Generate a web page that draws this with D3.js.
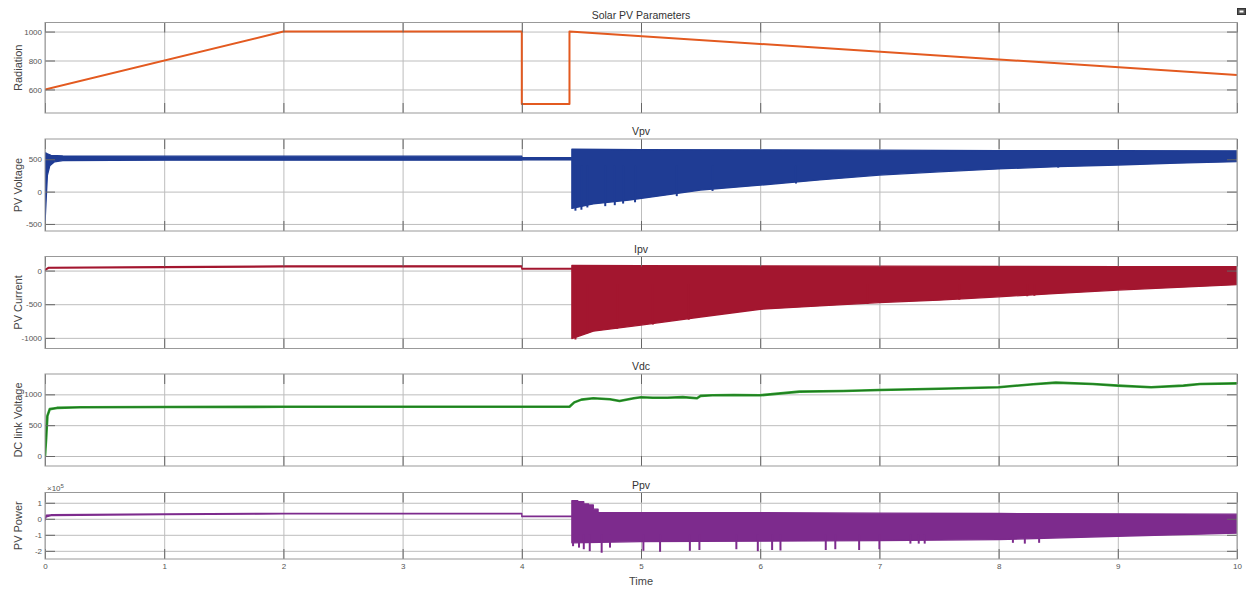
<!DOCTYPE html>
<html>
<head>
<meta charset="utf-8">
<script src="https://cdn.jsdelivr.net/npm/d3@7"></script>
<style>
  body { margin: 0; background: #fff; }
  svg { display: block; }
  text { font-family: "Liberation Sans", Arial, sans-serif; }
</style>
</head>
<body>
<svg id="chart"></svg>
<script>
// Figure size and shared horizontal extent of the plot boxes.
const width = 1247;
const height = 591;
const X_LEFT = 45;
const X_RIGHT = 1237;

const GRID_COLOR = '#bdbdbd';
const TICK_COLOR = '#666';
const FRAME_COLOR = '#999';
const LABEL_COLOR = '#444';

// Data -----------------------------------------------------------------------

const timeTicks = [0, 1, 2, 3, 4, 5, 6, 7, 8, 9, 10];

// Radiation (W/m2)
const radTime  = [0, 2, 4, 4, 4.4, 4.4, 10];
const radValue = [600, 1000, 1000, 500, 500, 1000, 700];
const radTicks = [600, 800, 1000];

// PV voltage: switching band drawn by its upper and lower envelopes
const vpvUpTime  = [0, 0.005, 0.02, 0.05, 0.15, 1, 2, 3, 4, 4, 4.42, 4.42, 5, 6, 7, 8, 9, 10];
const vpvUpValue = [-480, 600, 585, 560, 550, 548, 548, 548, 548, 525, 525, 655, 650, 645, 640, 634, 632, 630];
const vpvLoTime  = [0, 0.005, 0.02, 0.04, 0.08, 0.15, 1, 2, 3, 4, 4, 4.42, 4.42, 4.6, 4.9, 5.2, 5.5, 6, 6.5, 7, 7.5, 8, 8.5, 9, 9.5, 10];
const vpvLoValue = [-480, -300, 250, 400, 460, 480, 485, 485, 485, 485, 492, 492, -260, -190, -130, -55, 25, 100, 180, 255, 305, 350, 385, 411, 440, 462];
const vpvSpikeTime  = [4.45, 4.5, 4.55, 4.7, 4.78, 4.85, 4.95, 5.3, 5.6, 6.3, 8.5];
const vpvSpikeValue = [-295, -280, -245, -225, -210, -185, -165, -70, 10, 125, 370];
const vpvTicks = [-500, 0, 500];

// PV current
const ipvUpTime  = [0, 0.03, 1, 2, 3, 4, 4, 4.42, 4.42, 5, 6, 7, 8, 9, 10];
const ipvUpValue = [15, 48, 58, 68, 70, 70, 32, 32, 75, 72, 68, 65, 62, 60, 58];
const ipvLoTime  = [0, 0.03, 1, 2, 3, 4, 4, 4.42, 4.42, 4.6, 5, 5.5, 6, 6.5, 7, 7.5, 8, 8.5, 9, 9.5, 10];
const ipvLoValue = [0, 35, 45, 55, 57, 57, 22, 22, -1010, -900, -810, -690, -575, -525, -475, -440, -390, -340, -290, -250, -210];
const ipvSpikeTime  = [4.45, 4.55, 4.8, 5.1, 5.4, 6.9, 7.67, 8.24, 8.3];
const ipvSpikeValue = [-1025, -930, -865, -800, -730, -495, -435, -380, -375];
const ipvTicks = [-1000, -500, 0];

// DC link voltage
const vdcTime  = [0, 0.01, 0.02, 0.04, 0.1, 0.3, 1, 2, 3, 4, 4.4, 4.44, 4.5, 4.6, 4.74, 4.82, 4.94, 5.0, 5.1, 5.22, 5.35, 5.47, 5.5, 5.6, 5.78, 6.0, 6.33, 6.7, 7.0, 7.5, 8.0, 8.29, 8.48, 8.79, 9.0, 9.28, 9.55, 9.69, 10];
const vdcValue = [0, 300, 650, 760, 780, 790, 795, 798, 800, 800, 800, 870, 915, 937, 920, 893, 937, 953, 945, 946, 955, 937, 975, 985, 990, 985, 1044, 1055, 1070, 1090, 1115, 1164, 1190, 1168, 1141, 1115, 1141, 1168, 1178];
const vdcTicks = [0, 500, 1000];

// PV power, in units of 1e5 W
const ppvUpTime  = [0, 0.01, 0.05, 1, 2, 3, 4, 4, 4.42, 4.42, 4.47, 4.47, 4.52, 4.52, 4.56, 4.56, 4.6, 4.6, 4.64, 4.64, 5, 6, 7, 8, 9, 10];
const ppvUpValue = [-0.1, 0.22, 0.25, 0.3, 0.34, 0.34, 0.34, 0.17, 0.17, 1.13, 1.13, 1.07, 1.07, 0.93, 0.93, 0.86, 0.86, 0.6, 0.6, 0.4, 0.39, 0.38, 0.35, 0.33, 0.31, 0.29];
const ppvLoTime  = [0, 0.01, 0.05, 1, 2, 3, 4, 4, 4.42, 4.42, 5, 6, 7, 8, 9, 10];
const ppvLoValue = [-0.1, 0.12, 0.2, 0.26, 0.3, 0.3, 0.3, 0.13, 0.13, -1.5, -1.42, -1.4, -1.36, -1.3, -1.09, -0.9];
const ppvSpikeTime  = [4.43, 4.48, 4.52, 4.57, 4.67, 4.74, 5.02, 5.16, 5.41, 5.49, 5.8, 5.98, 6.1, 6.17, 6.55, 6.63, 6.83, 7.0, 7.26, 7.33, 7.38, 8.12, 8.22, 8.34];
const ppvSpikeValue = [-1.71, -1.8, -1.9, -2.02, -2.12, -1.8, -2.0, -2.06, -2.0, -1.95, -1.9, -2.02, -1.95, -1.98, -1.95, -1.9, -1.95, -1.9, -1.55, -1.55, -1.55, -1.5, -1.55, -1.5];
const ppvTicks = [-2, -1, 0, 1];

// Layout ----------------------------------------------------------------------

const svg = d3.select('#chart')
    .attr('width', width)
    .attr('height', height);

const x = d3.scaleLinear().domain([0, 10]).range([X_LEFT, X_RIGHT]);

const panels = [
    {title: 'Solar PV Parameters', label: 'Radiation',       top: 22.5,  bottom: 113,   domain: [437.5, 1062.5], ticks: radTicks},
    {title: 'Vpv',                 label: 'PV Voltage',      top: 139,   bottom: 231,   domain: [-609, 813],     ticks: vpvTicks},
    {title: 'Ipv',                 label: 'PV Current',      top: 256.5, bottom: 348.5, domain: [-1158, 209],    ticks: ipvTicks},
    {title: 'Vdc',                 label: 'DC link Voltage', top: 374,   bottom: 466,   domain: [-162, 1330],    ticks: vdcTicks},
    {title: 'Ppv',                 label: 'PV Power',        top: 492.5, bottom: 559,   domain: [-2.51, 1.64],   ticks: ppvTicks},
];

// plain numbers with an ASCII minus, as the scope prints them
const plain = d => String(d);

panels.forEach((p, i) => {
    p.y = d3.scaleLinear().domain(p.domain).range([p.bottom, p.top]);
    p.g = svg.append('g');
    p.isLast = i === panels.length - 1;

    const plotW = X_RIGHT - X_LEFT;
    const plotH = p.bottom - p.top;

    // grid
    p.g.append('g')
        .attr('transform', `translate(${X_LEFT},0)`)
        .call(d3.axisLeft(p.y).tickValues(p.ticks).tickSize(-plotW).tickFormat(''))
        .call(g => g.select('.domain').remove())
        .call(g => g.selectAll('line').attr('stroke', GRID_COLOR));
    p.g.append('g')
        .attr('transform', `translate(0,${p.bottom})`)
        .call(d3.axisBottom(x).tickValues(timeTicks).tickSize(-plotH).tickFormat(''))
        .call(g => g.select('.domain').remove())
        .call(g => g.selectAll('line').attr('stroke', GRID_COLOR));

    p.plot = p.g.append('g');

    svg.append('clipPath').attr('id', `clip${i}`)
        .append('rect')
        .attr('x', X_LEFT).attr('y', p.top)
        .attr('width', plotW).attr('height', plotH);
    p.plot.attr('clip-path', `url(#clip${i})`);
});

function drawAxes(p) {
    const styleTicks = g => {
        g.select('.domain').remove();
        g.selectAll('line').attr('stroke', TICK_COLOR);
        g.selectAll('text')
            .attr('fill', '#555')
            .style('font-size', '8px')
            .style('font-family', '"Liberation Sans", Arial, sans-serif');
    };
    p.g.append('g')
        .attr('transform', `translate(${X_LEFT},0)`)
        .call(d3.axisLeft(p.y).tickValues(p.ticks).tickSize(-10).tickPadding(3).tickFormat(plain))
        .call(styleTicks);
    p.g.append('g')
        .attr('transform', `translate(${X_RIGHT},0)`)
        .call(d3.axisRight(p.y).tickValues(p.ticks).tickSize(-10).tickFormat(''))
        .call(styleTicks);
    p.g.append('g')
        .attr('transform', `translate(0,${p.bottom})`)
        .call(d3.axisBottom(x).tickValues(timeTicks).tickSize(-10).tickPadding(4)
            .tickFormat(p.isLast ? plain : ''))
        .call(styleTicks);
    p.g.append('g')
        .attr('transform', `translate(0,${p.top})`)
        .call(d3.axisTop(x).tickValues(timeTicks).tickSize(-10).tickFormat(''))
        .call(styleTicks);

    p.g.append('rect')
        .attr('x', X_LEFT).attr('y', p.top)
        .attr('width', X_RIGHT - X_LEFT).attr('height', p.bottom - p.top)
        .attr('fill', 'none')
        .attr('stroke', FRAME_COLOR);

    p.g.append('text')
        .attr('x', (X_LEFT + X_RIGHT) / 2)
        .attr('y', p.top - 4)
        .attr('text-anchor', 'middle')
        .attr('fill', '#333')
        .style('font-size', '10.5px')
        .text(p.title);

    p.g.append('text')
        .attr('transform', `translate(22,${(p.top + p.bottom) / 2}) rotate(-90)`)
        .attr('text-anchor', 'middle')
        .attr('fill', LABEL_COLOR)
        .style('font-size', '11px')
        .text(p.label);
}

function zip(times, values) {
    return times.map((t, i) => [t, values[i]]);
}

function drawLine(p, times, values, color, lineWidth) {
    p.plot.append('path')
        .attr('d', d3.line().x(d => x(d[0])).y(d => p.y(d[1]))(zip(times, values)))
        .attr('fill', 'none')
        .attr('stroke', color)
        .attr('stroke-width', lineWidth)
        .attr('stroke-linejoin', 'round');
}

// Fast switching ripple: filled between its upper and lower envelope.
function drawBand(p, upT, upV, loT, loV, color) {
    const pts = zip(upT, upV).concat(zip(loT, loV).reverse());
    p.plot.append('path')
        .attr('d', d3.line().x(d => x(d[0])).y(d => p.y(d[1]))(pts) + 'Z')
        .attr('fill', color)
        .attr('stroke', color)
        .attr('stroke-width', 1.3)
        .attr('stroke-linejoin', 'round');
}

function drawSpikes(p, times, values, from, color) {
    p.plot.selectAll(null)
        .data(zip(times, values))
        .join('line')
            .attr('x1', d => x(d[0])).attr('x2', d => x(d[0]))
            .attr('y1', p.y(from)).attr('y2', d => p.y(d[1]))
            .attr('stroke', color)
            .attr('stroke-width', 2);
}

const [pRad, pVpv, pIpv, pVdc, pPpv] = panels;

drawLine(pRad, radTime, radValue, '#e35a20', 2);

drawBand(pVpv, vpvUpTime, vpvUpValue, vpvLoTime, vpvLoValue, '#1f3c94');
drawSpikes(pVpv, vpvSpikeTime, vpvSpikeValue, 400, '#1f3c94');

drawBand(pIpv, ipvUpTime, ipvUpValue, ipvLoTime, ipvLoValue, '#a3162f');
drawSpikes(pIpv, ipvSpikeTime, ipvSpikeValue, -200, '#a3162f');

drawLine(pVdc, vdcTime, vdcValue, '#2e9e2e', 2.6);
drawLine(pVdc, vdcTime, vdcValue, '#1d6e1d', 0.9);

drawBand(pPpv, ppvUpTime, ppvUpValue, ppvLoTime, ppvLoValue, '#7d2b8d');
drawSpikes(pPpv, ppvSpikeTime, ppvSpikeValue, -1, '#7d2b8d');

panels.forEach(drawAxes);

// exponent label of the power axis
const expLabel = svg.append('text')
    .attr('x', 47)
    .attr('y', pPpv.top - 2)
    .attr('fill', '#555')
    .style('font-size', '8px');
expLabel.append('tspan').text('\u00d710');
expLabel.append('tspan').attr('dy', -3).style('font-size', '6px').text('5');

svg.append('text')
    .attr('x', (X_LEFT + X_RIGHT) / 2)
    .attr('y', 585)
    .attr('text-anchor', 'middle')
    .attr('fill', LABEL_COLOR)
    .style('font-size', '11px')
    .text('Time');

// small scope toolbar icon at the top right
svg.append('rect')
    .attr('x', 1237.5).attr('y', 8.5).attr('width', 8).attr('height', 6)
    .attr('fill', '#555').attr('stroke', '#333');
svg.append('rect')
    .attr('x', 1239.5).attr('y', 10.5).attr('width', 4).attr('height', 2)
    .attr('fill', '#fff');
</script>
</body>
</html>
